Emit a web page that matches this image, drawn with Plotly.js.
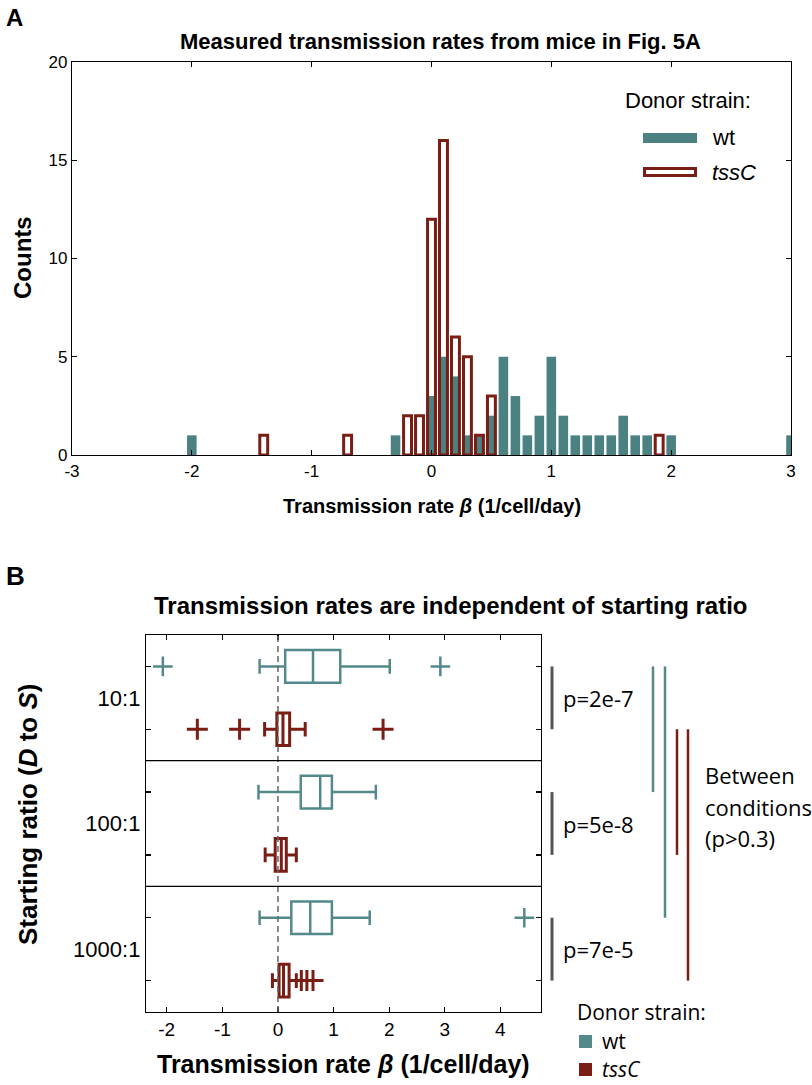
<!DOCTYPE html>
<html>
<head>
<meta charset="utf-8">
<script src="https://cdn.plot.ly/plotly-3.0.1.min.js"></script>
<style>
  body { margin: 0; background: #fff; }
  #plot { width: 812px; height: 1085px; }
</style>
</head>
<body>
<div id="plot"></div>
<script>
// Panel A: histogram, bin centres (bin width 0.1) and counts
let wtBins = [-2.0, -0.3, 0.0, 0.1, 0.2, 0.3, 0.4, 0.5, 0.6, 0.7, 0.8, 0.9, 1.0, 1.1, 1.2, 1.3, 1.4, 1.5, 1.6, 1.7, 1.8, 2.0, 3.0];
let wtCounts = [1, 1, 3, 5, 4, 1, 1, 2, 5, 3, 1, 2, 5, 2, 1, 1, 1, 1, 2, 1, 1, 1, 1];
let tsscBins = [-1.4, -0.7, -0.2, -0.1, 0.0, 0.1, 0.2, 0.3, 0.4, 0.5, 1.9];
let tsscCounts = [1, 1, 2, 2, 12, 16, 6, 5, 1, 3, 1];
let histTicks = [-3, -2, -1, 0, 1, 2, 3];

// Panel B: box summaries per starting ratio
let ratios = ["10:1", "100:1", "1000:1"];
let wtLow = [-0.33, -0.35, -0.33];
let wtQ1 = [0.13, 0.41, 0.24];
let wtMed = [0.63, 0.76, 0.58];
let wtQ3 = [1.12, 0.97, 0.97];
let wtHigh = [2.01, 1.76, 1.65];
let wtOut = [[-2.07, 2.92], [], [4.43]];
let tsscLow = [-0.24, -0.23, -0.1];
let tsscQ1 = [-0.02, -0.05, 0.02];
let tsscMed = [0.09, 0.06, 0.1];
let tsscQ3 = [0.21, 0.15, 0.2];
let tsscHigh = [0.49, 0.33, 0.33];
let tsscOut = [[-1.45, -0.69, 1.89], [], [0.42, 0.52, 0.63]];
let boxTicks = [-2, -1, 0, 1, 2, 3, 4];
let pValues = ["p=2e-7", "p=5e-8", "p=7e-5"];

const W = 812, H = 1085;
const px = x => x / W;
const py = y => 1 - y / H;

const teal = "#4c8181";
const tealB = "#53898a";
const red = "#7a1d15";
const helv = "Liberation Sans, Arial, sans-serif";
const myriad = "Open Sans, Noto Sans, sans-serif";

// tick labels with a plain hyphen, as in the original
const hyphen = v => String(v).replace("−", "-");

// box positions: wt on even rows, tssC on odd rows
let wtPos = ratios.map((r, i) => 2 * i);
let tsscPos = ratios.map((r, i) => 2 * i + 1);

function outlierPoints(groups, pos) {
  let xs = [], ys = [];
  groups.forEach((g, i) => g.forEach(v => { xs.push(v); ys.push(pos[i]); }));
  return {x: xs, y: ys};
}
let wtO = outlierPoints(wtOut, wtPos);
let tsO = outlierPoints(tsscOut, tsscPos);

let traceWt = {
  x: wtBins, y: wtCounts, type: "bar", width: 0.08,
  marker: {color: teal, line: {width: 0}},
  xaxis: "x", yaxis: "y", hoverinfo: "skip"
};
let traceTs = {
  x: tsscBins, y: tsscCounts, type: "bar", width: 0.066,
  marker: {color: "rgba(0,0,0,0)", line: {color: red, width: 3}},
  xaxis: "x", yaxis: "y", hoverinfo: "skip"
};

function boxTrace(pos, low, q1, med, q3, high, color, lw) {
  return {
    type: "box", orientation: "h", y: pos,
    lowerfence: low, q1: q1, median: med, q3: q3, upperfence: high,
    width: 0.52, whiskerwidth: 0.45,
    line: {color: color, width: lw}, fillcolor: "rgba(0,0,0,0)",
    boxpoints: false, xaxis: "x2", yaxis: "y2", hoverinfo: "skip"
  };
}
let boxWt = boxTrace(wtPos, wtLow, wtQ1, wtMed, wtQ3, wtHigh, tealB, 2.5);
let boxTs = boxTrace(tsscPos, tsscLow, tsscQ1, tsscMed, tsscQ3, tsscHigh, red, 3);

let outWt = {
  x: wtO.x, y: wtO.y, type: "scatter", mode: "markers",
  marker: {symbol: "cross-thin", size: 14, line: {color: tealB, width: 2.5}},
  xaxis: "x2", yaxis: "y2", hoverinfo: "skip"
};
let outTs = {
  x: tsO.x, y: tsO.y, type: "scatter", mode: "markers",
  marker: {symbol: "cross-thin", size: 15, line: {color: red, width: 3}},
  xaxis: "x2", yaxis: "y2", hoverinfo: "skip"
};

let data = [traceWt, traceTs, boxWt, boxTs, outWt, outTs];

let axisCommon = {
  showline: true, linecolor: "#000", linewidth: 1.2, mirror: "ticks",
  ticks: "inside", ticklen: 5, tickcolor: "#000", tickwidth: 1.2,
  showgrid: false, zeroline: false,
  tickfont: {family: helv, size: 17, color: "#000"}
};

let shapes = [
  // legend A swatches
  {type: "rect", xref: "paper", yref: "paper", x0: px(643), x1: px(697), y0: py(143), y1: py(133),
   fillcolor: teal, line: {width: 0}},
  {type: "rect", xref: "paper", yref: "paper", x0: px(644.5), x1: px(695.5), y0: py(175.5), y1: py(168.5),
   fillcolor: "rgba(0,0,0,0)", line: {color: red, width: 3}},
  // zero reference line in B
  {type: "line", xref: "x2", yref: "y2 domain", x0: 0, x1: 0, y0: 0, y1: 1,
   line: {color: "#666", width: 1.5, dash: "6px,4px"}},
  // legend B swatches
  {type: "rect", xref: "paper", yref: "paper", x0: px(579), x1: px(592), y0: py(1048), y1: py(1035),
   fillcolor: tealB, line: {width: 0}},
  {type: "rect", xref: "paper", yref: "paper", x0: px(579), x1: px(592), y0: py(1076), y1: py(1063),
   fillcolor: red, line: {width: 0}}
];

// separators between starting ratios
ratios.slice(1).forEach((r, i) => shapes.push({
  type: "line", xref: "x2 domain", yref: "y2", x0: 0, x1: 1, y0: 2 * i + 1.5, y1: 2 * i + 1.5,
  line: {color: "#000", width: 1.2}
}));
// brackets for wt vs tssC within each ratio
ratios.forEach((r, i) => shapes.push({
  type: "line", xref: "paper", yref: "y2", x0: px(552), x1: px(552), y0: wtPos[i], y1: tsscPos[i],
  line: {color: "#555", width: 3}
}));
// between-condition lines
[[px(653), wtPos[0], wtPos[1], tealB], [px(665), wtPos[0], wtPos[2], tealB],
 [px(677), tsscPos[0], tsscPos[1], red], [px(688), tsscPos[0], tsscPos[2], red]].forEach(s => shapes.push({
  type: "line", xref: "paper", yref: "y2", x0: s[0], x1: s[0], y0: s[1], y1: s[2],
  line: {color: s[3], width: 2.5}
}));

let ann = (x, y, text, size, opts) => Object.assign({
  xref: "paper", yref: "paper", x: px(x), y: py(y), text: text, showarrow: false,
  xanchor: "center", yanchor: "middle",
  font: {family: helv, size: size, color: "#000"}
}, opts || {});
let myr = size => ({family: myriad, size: size, color: "#000"});

let annotations = [
  ann(4, 18, "<b>A</b>", 24, {xanchor: "left"}),
  ann(440, 42, "<b>Measured transmission rates from mice in Fig. 5A</b>", 22),
  ann(22, 258, "<b>Counts</b>", 24, {textangle: -90}),
  ann(432, 506, "<b>Transmission rate <i>β</i> (1/cell/day)</b>", 20),
  ann(623, 100, "Donor strain:", 22, {xanchor: "left"}),
  ann(710, 138, "wt", 22, {xanchor: "left"}),
  ann(710, 172, "<i>tssC</i>", 22, {xanchor: "left"}),

  ann(4, 576, "<b>B</b>", 26, {xanchor: "left"}),
  ann(450, 605, "<b>Transmission rates are independent of starting ratio</b>", 24),
  ann(28, 815, "<b>Starting ratio (<i>D</i> to <i>S</i>)</b>", 26, {textangle: -90}),
  ann(343, 1064, "<b>Transmission rate <i>β</i> (1/cell/day)</b>", 25),
  ann(703, 775, "Between", 22, {xanchor: "left", font: myr(22)}),
  ann(703, 807, "conditions", 22, {xanchor: "left", font: myr(22)}),
  ann(703, 838, "(p>0.3)", 22, {xanchor: "left", font: myr(22)}),
  ann(575, 1012, "Donor strain:", 21, {xanchor: "left", font: myr(21)}),
  ann(600, 1041, "wt", 21, {xanchor: "left", font: myr(21)}),
  ann(600, 1069, "<i>tssC</i>", 21, {xanchor: "left", font: myr(21)})
];
ratios.forEach((r, i) => annotations.push({
  xref: "paper", yref: "y2", x: px(561), y: (wtPos[i] + tsscPos[i]) / 2, text: pValues[i],
  showarrow: false, xanchor: "left", yanchor: "middle", font: myr(22)
}));

let layout = {
  width: W, height: H,
  margin: {l: 0, r: 0, t: 0, b: 0},
  paper_bgcolor: "#fff", plot_bgcolor: "#fff",
  showlegend: false, barmode: "overlay",
  xaxis: Object.assign({}, axisCommon, {
    domain: [px(72), px(791)], range: [-3, 3], anchor: "y",
    tickmode: "array", tickvals: histTicks, ticktext: histTicks.map(hyphen)
  }),
  yaxis: Object.assign({}, axisCommon, {
    domain: [py(455), py(62)], range: [0, 20], dtick: 5, anchor: "x"
  }),
  xaxis2: Object.assign({}, axisCommon, {
    domain: [px(146), px(541)], range: [-2.373, 4.73], anchor: "y2",
    tickmode: "array", tickvals: boxTicks, ticktext: boxTicks.map(hyphen),
    tickfont: {family: helv, size: 19, color: "#000"}
  }),
  yaxis2: Object.assign({}, axisCommon, {
    domain: [py(1012), py(635)], range: [5.5, -0.5], anchor: "x2",
    tickmode: "array", tickvals: [0.5, 2.5, 4.5], ticktext: ratios, ticks: "", ticklen: 0,
    tickfont: {family: helv, size: 22, color: "#000"},
    minor: {tickmode: "array", tickvals: wtPos.concat(tsscPos), ticks: "inside", ticklen: 5,
            tickcolor: "#000", tickwidth: 1.2}
  }),
  shapes: shapes,
  annotations: annotations
};

Plotly.newPlot("plot", data, layout, {staticPlot: true});
</script>
</body>
</html>
